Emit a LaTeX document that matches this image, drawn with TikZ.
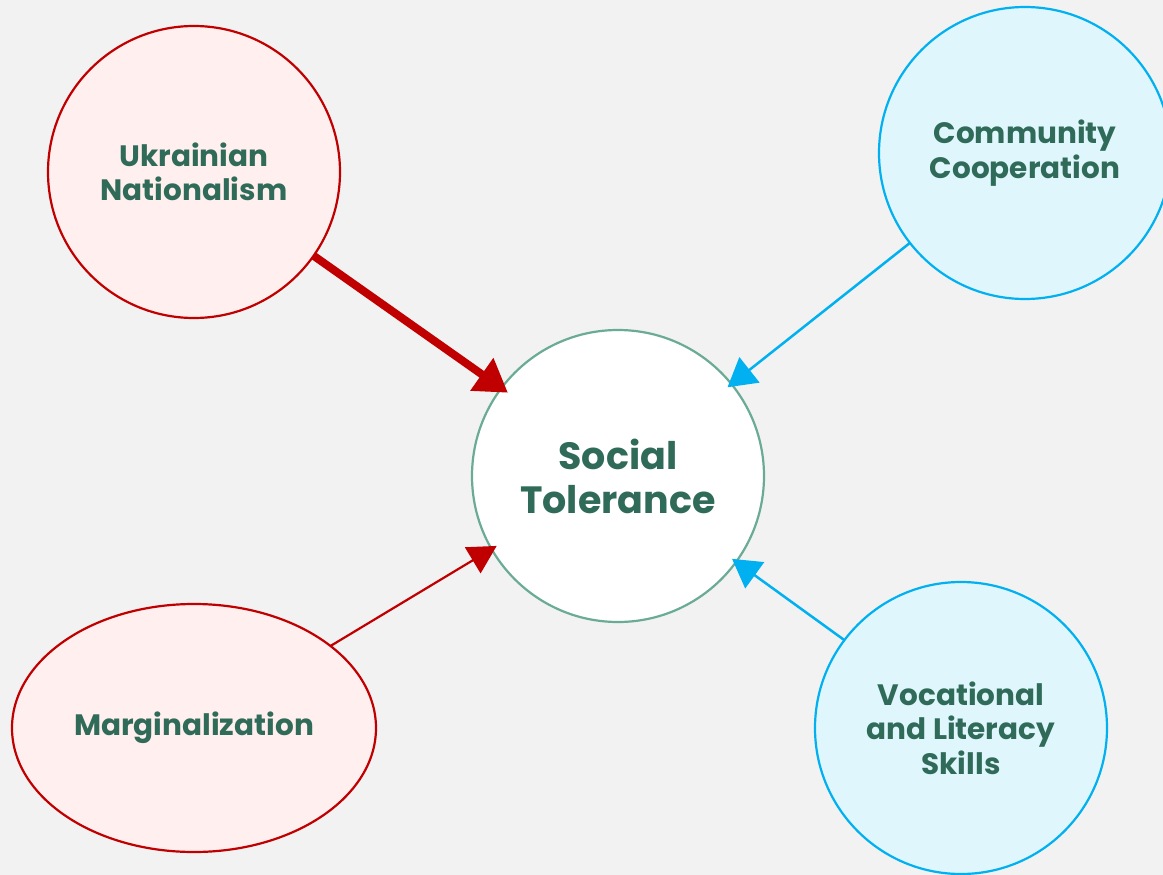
\documentclass[tikz,border=0pt]{standalone}
\usepackage{fontspec}
\setmainfont{Poppins}
\usetikzlibrary{positioning,arrows.meta,shapes.geometric}

\definecolor{bgray}{HTML}{F2F2F2}
\definecolor{dred}{HTML}{C00000}
\definecolor{lpink}{HTML}{FFEFEF}
\definecolor{cblue}{HTML}{00B0F0}
\definecolor{lblue}{HTML}{DFF6FD}
\definecolor{teal}{HTML}{6AAB94}
\definecolor{txtgreen}{HTML}{2F6B58}

\begin{document}
\begin{tikzpicture}[x=1pt,y=-1pt,
	every node/.style={align=center,text=txtgreen,font=\bfseries\fontsize{29.5}{34.5}\selectfont,inner sep=0pt,outer sep=0pt},
	negbub/.style={draw=dred,fill=lpink,line width=2.2pt},
	posbub/.style={draw=cblue,fill=lblue,line width=2.2pt},
	bub/.style={circle,minimum size=292pt}]
\clip(0,0) rectangle (1163,875);
\fill[bgray](0,0) rectangle (1163,875);
\node[bub,draw=teal,fill=white,line width=2.2pt,font=\bfseries\fontsize{38}{44}\selectfont] (soc) at (618,476) {Social\\Tolerance};
\node[bub,negbub] (ukr) at (194,172) {Ukrainian\\Nationalism};
\node[bub,posbub] (comm) at (1025,153) {Community\\Cooperation};
\node[ellipse,negbub,minimum width=364pt,minimum height=248pt] (marg) at (194,728) {Marginalization};
\node[bub,posbub] (voc) at (961,728) {Vocational\\and Literacy\\Skills};
\draw[dred,line width=8pt,-{Triangle[length=32pt,width=38pt]},shorten >=-8pt](ukr.-35)--(soc.143);
\draw[dred,line width=2.2pt,-{Triangle[length=28pt,width=30pt]},shorten >=-6pt](marg.31)--(soc.210);
\foreach \a/\b/\c in {comm/218/39,voc/143/-36}
	\draw[cblue,line width=2.5pt,-{Triangle[length=28pt,width=32pt]},shorten >=-5pt](\a.\b)--(soc.\c);
\end{tikzpicture}
\end{document}
